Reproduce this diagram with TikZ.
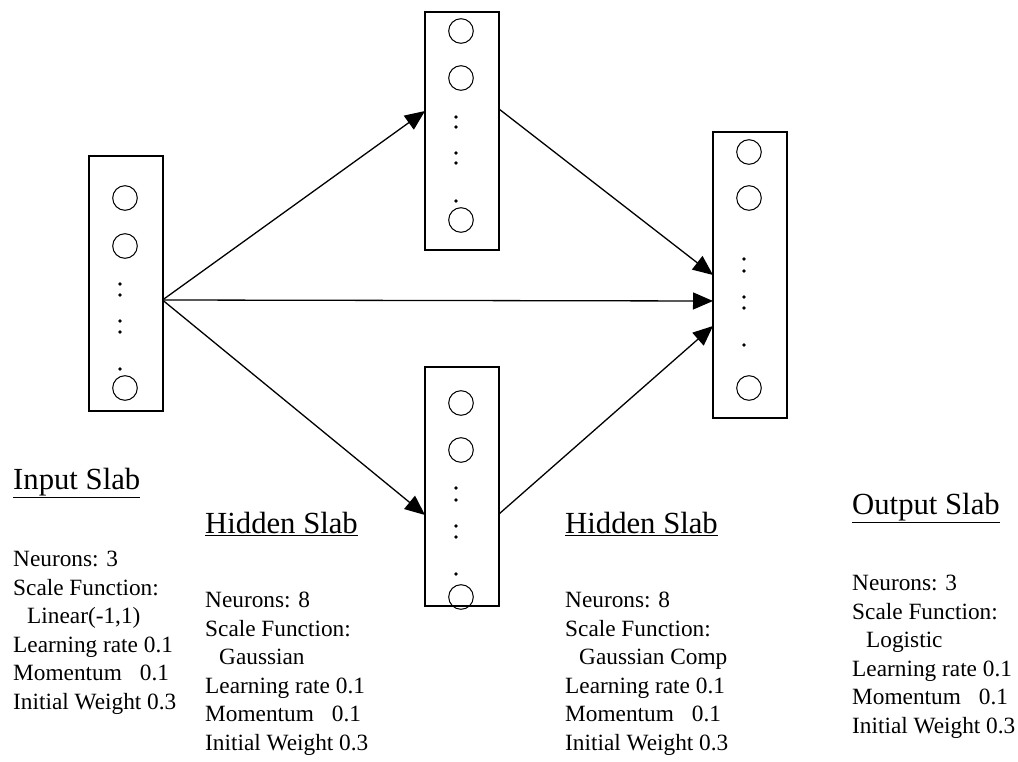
\documentclass[tikz,border=0pt]{standalone}
\usepackage{fontspec}
\setmainfont{Liberation Serif}
\usetikzlibrary{arrows.meta}
\begin{document}
\begin{tikzpicture}[x=1pt,y=-1pt,
  slab/.style={draw, line width=1.3pt, rectangle, inner sep=0pt, minimum width=74pt},
  neuron/.style={draw, line width=1pt, circle, inner sep=0pt, minimum size=24.6pt},
  dotmark/.style={fill, circle, inner sep=0pt, minimum size=3.6pt},
  link/.style={line width=1.3pt, -{Triangle[length=20pt,width=17pt]}},
  title/.style={anchor=north west, inner sep=0pt, font=\fontsize{30.7}{34}\selectfont},
  info/.style={anchor=north west, inner sep=0pt, align=left, font=\fontsize{23.3}{28.5}\selectfont}]
\useasboundingbox (0,0) rectangle (1018,762);

% slabs
\node[slab, minimum height=255pt] (ibox) at (126,283.5) {};
\node[slab, minimum height=238pt] (tbox) at (462,131) {};
\node[slab, minimum height=286pt] (obox) at (750,275) {};
\node[slab, minimum height=239pt] (bbox) at (462,486.5) {};

% input neurons
\node[neuron] (i1) at (125,198) {};
\node[neuron] (i2) at (125,246) {};
\node[neuron] (i3) at (125,388) {};
\foreach \y [count=\k] in {284,295,321,332,369} \node[dotmark] (id\k) at (120,\y) {};
% top hidden neurons
\node[neuron] (t1) at (461,31) {};
\node[neuron] (t2) at (461,78) {};
\node[neuron] (t3) at (461,220) {};
\foreach \y [count=\k] in {117,127,153,163,201} \node[dotmark] (td\k) at (456,\y) {};
% output neurons
\node[neuron] (o1) at (749,152) {};
\node[neuron] (o2) at (749,198) {};
\node[neuron] (o3) at (749,388) {};
\foreach \y [count=\k] in {259,271,297,308,345} \node[dotmark] (od\k) at (744,\y) {};
% bottom hidden neurons
\node[neuron] (b1) at (461,403) {};
\node[neuron] (b2) at (461,450) {};
\node[neuron] (b3) at (461,597) {};
\foreach \y [count=\k] in {488,500,526,537,574} \node[dotmark] (bd\k) at (456,\y) {};

% connection points
\coordinate (src) at (162.5,300);
\coordinate (tin) at (425,111);
\coordinate (bin) at (425,515);
\coordinate (tout) at (499,109);
\coordinate (bout) at (499,514);
\coordinate (oin1) at (713,275);
\coordinate (oin2) at (713,301);
\coordinate (oin3) at (713,326);

\draw[link] (src) -- (tin);
\draw[link] (src) -- (oin2);
\draw[link] (src) -- (bin);
\draw[link] (tout) -- (oin1);
\draw[link] (bout) -- (oin3);

% labels
\node[title] (ititle) at (13,468) {\underline{Input Slab}};
\node[info] (iinfo) at (13,551) {Neurons: 3\\Scale Function:\\\hspace*{14pt}Linear(-1,1)\\Learning rate 0.1\\Momentum\hspace{18pt}0.1\\Initial Weight 0.3};

\node[title] (h1title) at (205,512) {\underline{Hidden Slab}};
\node[info] (h1info) at (205,592) {Neurons: 8\\Scale Function:\\\hspace*{14pt}Gaussian\\Learning rate 0.1\\Momentum\hspace{18pt}0.1\\Initial Weight 0.3};

\node[title] (h2title) at (565,512) {\underline{Hidden Slab}};
\node[info] (h2info) at (565,592) {Neurons: 8\\Scale Function:\\\hspace*{14pt}Gaussian Comp\\Learning rate 0.1\\Momentum\hspace{18pt}0.1\\Initial Weight 0.3};

\node[title] (otitle) at (852,493) {\underline{Output Slab}};
\node[info] (oinfo) at (852,575) {Neurons: 3\\Scale Function:\\\hspace*{14pt}Logistic\\Learning rate 0.1\\Momentum\hspace{18pt}0.1\\Initial Weight 0.3};
\end{tikzpicture}
\end{document}
